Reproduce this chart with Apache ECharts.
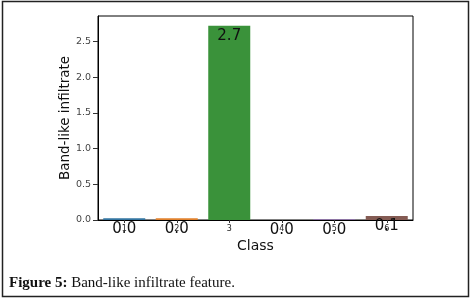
<!DOCTYPE html>
<html><head><meta charset="utf-8">
<script src="https://cdn.jsdelivr.net/npm/echarts@6/dist/echarts.min.js"></script>
<style>html,body{margin:0;padding:0;background:#fff}#c{width:473px;height:303px}</style>
</head><body><div id="c"></div>
<script>
const categories = ['1', '2', '3', '4', '5', '6'];
const values = [0.025, 0.025, 2.72, 0, 0.01, 0.055];
const barColors = ['#3274a1', '#e1812c', '#3a923a', '#c03d3e', '#9372b2', '#845b53'];
const yTicks = [0, 0.5, 1.0, 1.5, 2.0, 2.5];
const yMax = 2.856;
const xName = 'Class';
const yName = 'Band-like infiltrate';
const captionBold = 'Figure 5:';
const captionText = ' Band-like infiltrate feature.';

const chart = echarts.init(document.getElementById('c'), null, {renderer: 'canvas'});
const font = 'DejaVu Sans';
chart.setOption({
  animation: false,
  backgroundColor: '#fff',
  grid: {left: 98, right: 60, top: 16, bottom: 83, show: true, borderColor: '#000', borderWidth: 1, backgroundColor: 'transparent'},
  xAxis: {
    type: 'category', data: categories,
    name: xName, nameLocation: 'middle', nameGap: 19, nameMoveOverlap: false,
    nameTextStyle: {fontFamily: font, fontSize: 14, color: '#111'},
    axisLine: {show: true, lineStyle: {color: '#000', width: 1}},
    axisTick: {show: true, alignWithLabel: true, length: 3, lineStyle: {color: '#333'}},
    axisLabel: {fontFamily: font, fontSize: 8, color: '#222', margin: 5}
  },
  yAxis: {
    type: 'value', min: 0, max: yMax,
    name: yName, nameLocation: 'middle', nameGap: 26, nameMoveOverlap: false,
    nameTextStyle: {fontFamily: font, fontSize: 13.5, color: '#111'},
    splitLine: {show: false},
    axisLine: {show: true, lineStyle: {color: '#000', width: 1}},
    axisTick: {show: true, length: 5, lineStyle: {color: '#333'}, customValues: yTicks},
    axisLabel: {fontFamily: font, fontSize: 9.5, color: '#444', margin: 7, customValues: yTicks,
      formatter: v => v.toFixed(1)}
  },
  series: [{
    type: 'bar', barCategoryGap: '20%',
    data: values.map((v, i) => ({value: v, itemStyle: {color: barColors[i]}})),
    label: {show: true, position: 'insideTop', distance: 3, fontFamily: font, fontSize: 15, color: '#111',
      formatter: p => p.value.toFixed(1)}
  }],
  graphic: [
    {type: 'rect', shape: {x: 2.5, y: 1.5, width: 466, height: 295}, style: {fill: 'none', stroke: '#222', lineWidth: 1.5}, silent: true},
    {type: 'text', left: 9, top: 276, style: {
      text: '{b|' + captionBold + '}{r|' + captionText + '}',
      rich: {
        b: {fontFamily: 'Liberation Serif', fontWeight: 'bold', fontSize: 15, fill: '#111'},
        r: {fontFamily: 'Liberation Serif', fontSize: 15, fill: '#111'}
      }
    }}
  ]
});
</script></body></html>
